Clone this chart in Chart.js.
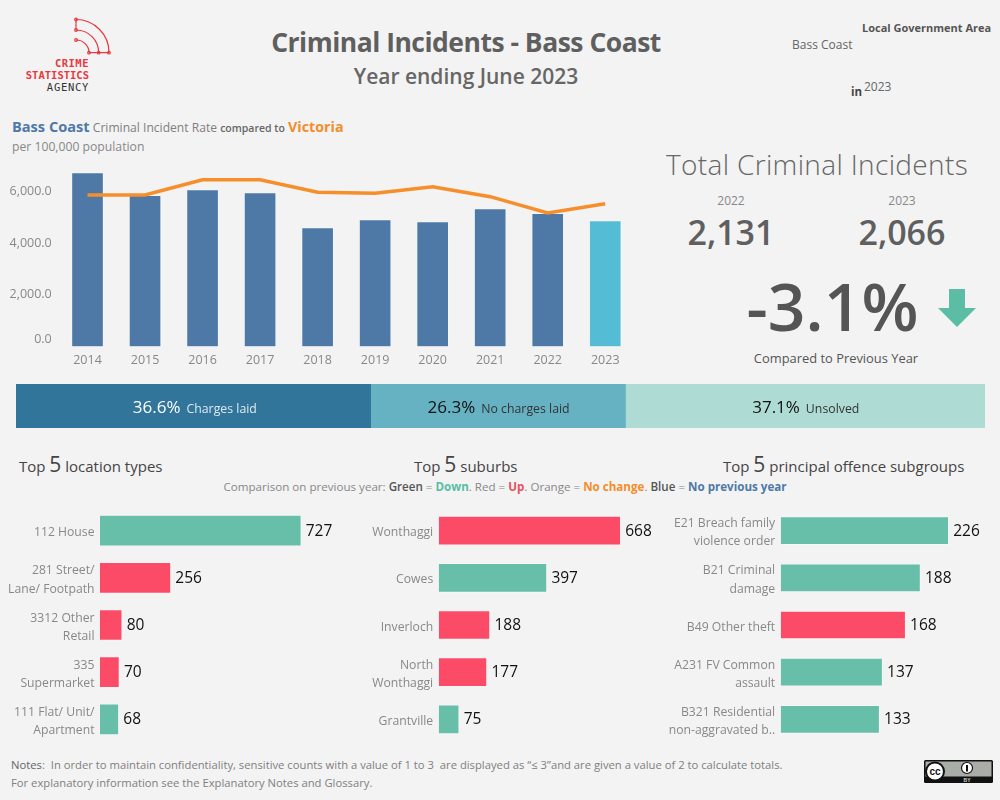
<!DOCTYPE html>
<html>
<head>
<meta charset="utf-8">
<title>Criminal Incidents - Bass Coast</title>
<script src="https://cdn.jsdelivr.net/npm/chart.js@4"></script>
<style>
  html, body { margin: 0; padding: 0; background: #f3f3f3; }
  body { width: 1000px; height: 800px; position: relative; overflow: hidden; font-family: "Open Sans", sans-serif; }
  .t { position: absolute; white-space: nowrap; line-height: 1; transform: translateY(-50%); }
  .c { transform: translate(-50%, -50%); }
  canvas { position: absolute; display: block; }
  svg { position: absolute; left: 0; top: 0; }
  .top5 { font-size: 15px; color: #444; }
  .top5 b { font-size: 21px; font-weight: 400; }
  .note { font-size: 11.25px; color: #808080; }
  .logo { font-family: "DejaVu Sans Mono", monospace; font-size: 10.5px; right: 911px; color: #e8383d; font-weight: 700; }
</style>
</head>
<body>

<!-- Logo, arrow and licence badge -->
<svg width="1000" height="800">
  <g fill="none" stroke="#e8383d" stroke-width="1.2">
    <path d="M76 19.5 A33 33 0 0 1 109 52.7"/>
    <path d="M76 30 A22.7 22.7 0 0 1 98.7 52.7"/>
    <path d="M76 40 A12.7 12.7 0 0 1 89 52.7"/>
    <path d="M76 19.5 V30 M89 52.7 H109"/>
    <circle cx="76" cy="19.5" r="1.3"/><circle cx="76" cy="30" r="1.3"/><circle cx="76" cy="40" r="1.3"/>
    <circle cx="89" cy="52.7" r="1.3"/><circle cx="98.7" cy="52.7" r="1.3"/><circle cx="109" cy="52.7" r="1.3"/>
  </g>
  <polygon points="949,289 965,289 965,308 976,308 957,327 938,308 949,308" fill="#5bbda3"/>
  <rect x="924" y="760" width="69" height="23" rx="1.5" fill="#111"/>
  <rect x="925.5" y="761.5" width="66" height="15" fill="#a9aca8"/>
  <circle cx="935" cy="771.5" r="9" fill="#fff" stroke="#111" stroke-width="2"/>
  <text x="935" y="775" font-family="Liberation Sans" font-size="10" font-weight="700" text-anchor="middle" fill="#111">cc</text>
  <circle cx="967" cy="768" r="5.5" fill="#fff" stroke="#111" stroke-width="1.2"/>
  <path d="M967 765 V771.5" stroke="#111" stroke-width="2"/>
  <text x="967" y="782" font-family="Liberation Sans" font-size="5" font-weight="700" text-anchor="middle" fill="#ccc">BY</text>
</svg>

<div class="t logo" style="top:63px;letter-spacing:.5px">CRIME</div>
<div class="t logo" style="top:75px">STATISTICS</div>
<div class="t logo" style="top:87px;color:#333;font-weight:400;letter-spacing:.7px">AGENCY</div>

<div class="t c" style="left:466px;top:41.5px;font-size:26.5px;font-weight:700;letter-spacing:-.5px;color:#5f5f5f">Criminal Incidents - Bass Coast</div>
<div class="t c" style="left:466px;top:76px;font-size:21px;font-weight:600;color:#666">Year ending June 2023</div>
<div class="t" style="left:862px;top:27px;font-size:11px;font-weight:700;color:#555">Local Government Area</div>
<div class="t" style="left:792px;top:45px;font-size:12px;color:#666">Bass Coast</div>
<div class="t" style="left:851px;top:92px;font-size:11.5px;font-weight:700;color:#444">in</div>
<div class="t" style="left:864px;top:87px;font-size:12px;color:#666">2023</div>

<div class="t" style="left:12px;top:127px;color:#808080;font-size:12.1px">
  <span style="font-size:14.6px;font-weight:700;color:#4e79a7">Bass Coast</span>
  Criminal Incident Rate
  <span style="font-size:10.5px;font-weight:600;color:#666">compared to</span>
  <span style="font-size:14.3px;font-weight:700;color:#f28e2b">Victoria</span>
</div>
<div class="t" style="left:12px;top:147px;font-size:12.2px;color:#888">per 100,000 population</div>

<div class="t c" style="left:817px;top:163.5px;font-size:28px;font-weight:300;color:#666;letter-spacing:.35px">Total Criminal Incidents</div>
<div class="t c" style="left:731px;top:201px;font-size:12px;color:#888">2022</div>
<div class="t c" style="left:902px;top:201px;font-size:12px;color:#888">2023</div>
<div class="t c" style="left:731px;top:231.5px;font-size:34px;font-weight:600;color:#5f5f5f">2,131</div>
<div class="t c" style="left:902px;top:231.5px;font-size:34px;font-weight:600;color:#5f5f5f">2,066</div>
<div class="t c" style="left:832.5px;top:305px;font-size:66px;font-weight:600;color:#555">-3.1%</div>
<div class="t c" style="left:836px;top:358px;font-size:12.9px;font-weight:500;color:#555">Compared to Previous Year</div>

<div class="t top5" style="left:19px;top:464px">Top <b>5</b> location types</div>
<div class="t top5" style="left:414px;top:464px">Top <b>5</b> suburbs</div>
<div class="t top5" style="left:723px;top:464px">Top <b>5</b> principal offence subgroups</div>
<div class="t c" style="left:505px;top:486.5px;font-size:11.6px;color:#888">Comparison on previous year: <span style="font-weight:600;color:#555">Green</span> = <span style="font-weight:700;color:#5bbda3">Down</span>. Red = <span style="font-weight:700;color:#e8505f">Up</span>. Orange = <span style="font-weight:700;color:#f28e2b">No change</span>. <span style="font-weight:600;color:#555">Blue</span> = <span style="font-weight:700;color:#4e79a7">No previous year</span></div>

<div class="t note" style="left:11px;top:765px"><span style="font-weight:500;color:#666">Notes</span>:&nbsp; In order to maintain confidentiality, sensitive counts with a value of 1 to 3&nbsp; are displayed as “≤ 3”and are given a value of 2 to calculate totals.</div>
<div class="t note" style="left:11px;top:783px">For explanatory information see the Explanatory Notes and Glossary.</div>

<canvas id="rateChart" width="634" height="207" style="left:0;top:165px"></canvas>
<canvas id="outcomeChart" width="969" height="44" style="left:15.5px;top:384px"></canvas>
<canvas id="locationChart" width="345" height="236" style="left:0;top:507px"></canvas>
<canvas id="suburbChart" width="335" height="236" style="left:345px;top:507px"></canvas>
<canvas id="offenceChart" width="340" height="236" style="left:660px;top:507px"></canvas>

<script>
// Incident rate per 100,000 population
const years = ['2014', '2015', '2016', '2017', '2018', '2019', '2020', '2021', '2022', '2023'];
const bassCoastRate = [6730, 5850, 6070, 5955, 4600, 4910, 4835, 5335, 5155, 4870];
const victoriaRate = [5860, 5860, 6452, 6452, 5965, 5926, 6182, 5795, 5165, 5524];
const rateTicks = [0, 2000, 4000, 6000];

// Investigation outcomes
const outcomeNames = ['Charges laid', 'No charges laid', 'Unsolved'];
const outcomeShares = [36.6, 26.3, 37.1];

// Top 5 lists
const locationLabels = [['112 House'], ['281 Street/', 'Lane/ Footpath'], ['3312 Other', 'Retail'], ['335', 'Supermarket'], ['111 Flat/ Unit/', 'Apartment']];
const locationCounts = [727, 256, 80, 70, 68];
const locationTrend = ['down', 'up', 'up', 'up', 'down'];

const suburbLabels = [['Wonthaggi'], ['Cowes'], ['Inverloch'], ['North', 'Wonthaggi'], ['Grantville']];
const suburbCounts = [668, 397, 188, 177, 75];
const suburbTrend = ['up', 'down', 'up', 'up', 'down'];

const offenceLabels = [['E21 Breach family', 'violence order'], ['B21 Criminal', 'damage'], ['B49 Other theft'], ['A231 FV Common', 'assault'], ['B321 Residential', 'non-aggravated b..']];
const offenceCounts = [226, 188, 168, 137, 133];
const offenceTrend = ['down', 'down', 'up', 'down', 'down'];

const FONT = '"Open Sans", sans-serif';
const trendColors = { down: '#67bfa9', up: '#fb4b66' };

Chart.defaults.animation = false;
Chart.defaults.responsive = false;
Chart.defaults.font.family = FONT;
Chart.defaults.plugins.legend.display = false;
Chart.defaults.plugins.tooltip.enabled = false;

// Rate chart: bars for the LGA, line for the state
new Chart(document.getElementById('rateChart'), {
  data: {
    labels: years,
    datasets: [
      {
        type: 'line',
        data: victoriaRate,
        borderColor: '#f68e2b',
        borderWidth: 3.5,
        pointRadius: 0,
        tension: 0,
        order: 0
      },
      {
        type: 'bar',
        data: bassCoastRate,
        backgroundColor: years.map((y, i) => i === years.length - 1 ? '#55bcd5' : '#4e79a7'),
        borderColor: 'rgba(255,255,255,0.25)',
        borderWidth: 1,
        barThickness: 32,
        order: 1
      }
    ]
  },
  options: {
    layout: { padding: 0 },
    scales: {
      x: {
        grid: { display: false, drawTicks: false },
        border: { display: false },
        ticks: { color: '#888', font: { size: 12.5 }, padding: 6, maxRotation: 0 },
        afterFit: s => { s.height = 25.5; s.paddingLeft = 0; s.paddingRight = 0; }
      },
      y: {
        min: 0,
        max: 7020,
        grid: { display: false, drawTicks: false },
        border: { display: false },
        afterBuildTicks: s => { s.ticks = rateTicks.map(v => ({ value: v })); },
        ticks: {
          color: '#888',
          font: { size: 12.5, lineHeight: 1.2 },
          padding: 7,
          autoSkip: false,
          // the zero label sits a little above its position
          callback: v => v === 0 ? ['0.0', ''] : v.toLocaleString('en-US', { minimumFractionDigits: 1 })
        },
        afterFit: s => { s.width = 58.75; s.paddingTop = 0; s.paddingBottom = 0; }
      }
    }
  }
});

// Labels inside the outcome strip
const outcomeLabels = {
  id: 'outcomeLabels',
  afterDatasetsDraw(chart) {
    const ctx = chart.ctx;
    chart.data.datasets.forEach((ds, i) => {
      const bar = chart.getDatasetMeta(i).data[0];
      const center = (bar.x + bar.base) / 2;
      const color = i === 0 ? '#fff' : '#111';
      const nameColor = i === 0 ? '#dde9ef' : '#333';
      const pct = ds.data[0].toFixed(1) + '%';
      ctx.save();
      ctx.textBaseline = 'middle';
      ctx.font = '17px ' + FONT;
      const w1 = ctx.measureText(pct).width;
      ctx.font = '12.3px ' + FONT;
      const w2 = ctx.measureText(outcomeNames[i]).width;
      const start = center - (w1 + 6 + w2) / 2 + (i === 0 ? 1.5 : 0.5);
      ctx.textAlign = 'left';
      ctx.font = '17px ' + FONT;
      ctx.fillStyle = color;
      ctx.fillText(pct, start, bar.y + 2);
      ctx.font = '12.3px ' + FONT;
      ctx.fillStyle = nameColor;
      ctx.fillText(outcomeNames[i], start + w1 + 6, bar.y + 3);
      ctx.restore();
    });
  }
};

const outcomeColors = ['#31759b', '#66b2c2', '#aedcd4'];
new Chart(document.getElementById('outcomeChart'), {
  type: 'bar',
  plugins: [outcomeLabels],
  data: {
    labels: ['Outcome'],
    datasets: outcomeShares.map((v, i) => ({
      data: [v],
      backgroundColor: outcomeColors[i],
      barPercentage: 1,
      categoryPercentage: 1
    }))
  },
  options: {
    indexAxis: 'y',
    layout: { padding: 0 },
    scales: {
      x: { display: false, stacked: true, min: 0, max: 100 },
      y: { display: false, stacked: true }
    }
  }
});

// Value at the end of each horizontal bar, category name to its left
const barEndLabels = {
  id: 'barEndLabels',
  afterDatasetsDraw(chart) {
    const ctx = chart.ctx;
    const ds = chart.data.datasets[0];
    const yScale = chart.scales.y;
    const lineStep = 18.3;
    ctx.save();
    ctx.textBaseline = 'middle';
    chart.getDatasetMeta(0).data.forEach((bar, i) => {
      ctx.font = '15.5px ' + FONT;
      ctx.fillStyle = '#111';
      ctx.textAlign = 'left';
      ctx.fillText(ds.data[i], bar.x + 4.5, bar.y + 0.5);

      const lines = chart.data.labels[i];
      const top = yScale.getPixelForTick(i) + 2.2 - (lines.length - 1) * lineStep / 2;
      ctx.font = '12.2px ' + FONT;
      ctx.fillStyle = '#888';
      ctx.textAlign = 'right';
      lines.forEach((line, n) => ctx.fillText(line, yScale.right - 5.5, top + n * lineStep));
    });
    ctx.restore();
  }
};

function topFiveChart(id, labels, counts, trend, axisWidth, xMax, thickness) {
  return new Chart(document.getElementById(id), {
    type: 'bar',
    plugins: [barEndLabels],
    data: {
      labels: labels,
      datasets: [{
        data: counts,
        backgroundColor: trend.map(t => trendColors[t]),
        borderColor: 'rgba(255,255,255,0.3)',
        borderWidth: 1,
        barThickness: thickness
      }]
    },
    options: {
      indexAxis: 'y',
      layout: { padding: 0 },
      scales: {
        x: { display: false, min: 0, max: xMax },
        y: {
          grid: { display: false, drawTicks: false },
          border: { display: false },
          ticks: { display: false },
          afterFit: s => { s.width = axisWidth; s.paddingTop = 0; s.paddingBottom = 0; }
        }
      }
    }
  });
}

topFiveChart('locationChart', locationLabels, locationCounts, locationTrend, 100, 885, 31);
topFiveChart('suburbChart', suburbLabels, suburbCounts, suburbTrend, 93.7, 885.5, 29);
topFiveChart('offenceChart', offenceLabels, offenceCounts, offenceTrend, 120.7, 295, 28);
</script>
</body>
</html>
